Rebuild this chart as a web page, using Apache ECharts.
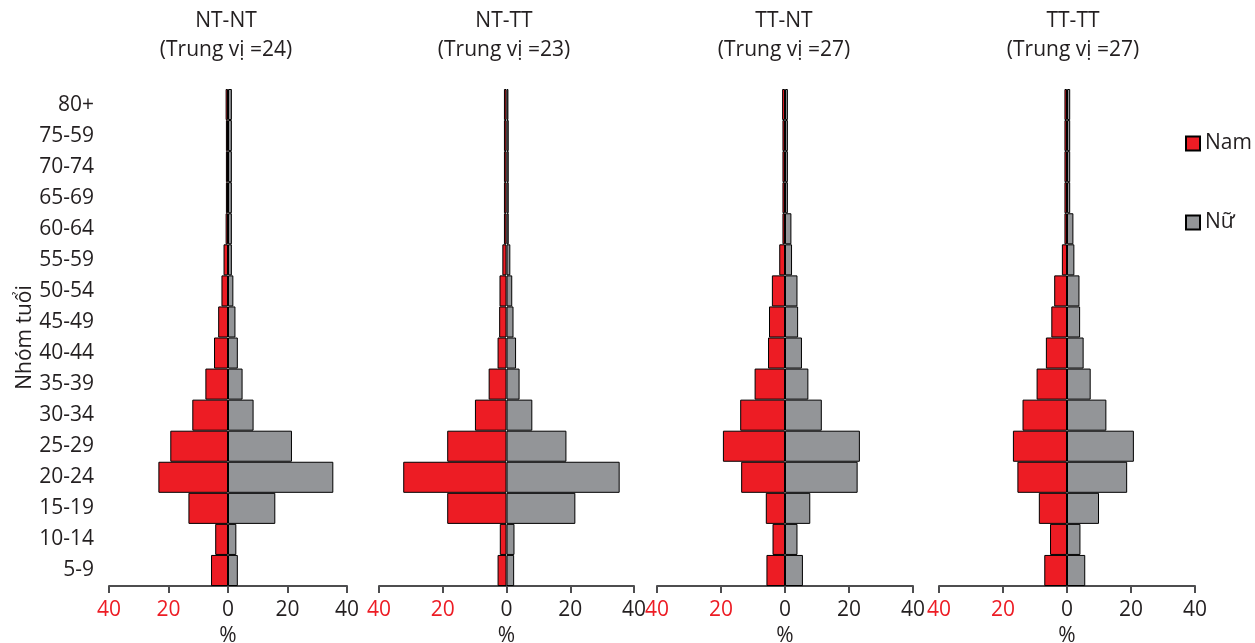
<!DOCTYPE html>
<html><head><meta charset="utf-8">
<script src="https://cdn.jsdelivr.net/npm/echarts@6/dist/echarts.min.js"></script>
<style>html,body{margin:0;padding:0;background:#fff}#c{width:1255px;height:643px}</style>
</head><body><div id="c"></div>
<script>
const ageGroups = ['5-9','10-14','15-19','20-24','25-29','30-34','35-39','40-44','45-49','50-54','55-59','60-64','65-69','70-74','75-59','80+'];
const panelTitles = ['NT-NT','NT-TT','TT-NT','TT-TT'];
const medians = [24, 23, 27, 27];
const maleNTNT   = [5.7,4.3,13.3,23.4,19.4,12.0,7.6,4.7,3.3,2.2,1.5,0.8,0.7,0.7,0.7,0.8];
const femaleNTNT = [3.3,2.8,15.9,35.4,21.5,8.6,4.9,3.3,2.5,1.8,1.3,1.3,1.3,1.3,1.3,1.3];
const maleNTTT   = [2.8,2.1,18.6,32.4,18.6,9.9,5.6,2.8,2.3,2.2,1.3,0.8,0.8,0.8,0.8,0.8];
const femaleNTTT = [2.4,2.5,21.6,35.5,18.8,8.1,4.1,3.0,2.2,1.8,1.2,0.7,0.7,0.7,0.7,0.6];
const maleTTNT   = [5.8,3.9,6.0,13.7,19.4,14.0,9.5,5.3,5.0,4.1,1.8,0.8,0.8,0.8,0.8,0.9];
const femaleTTNT = [5.6,3.9,7.9,22.7,23.4,11.5,7.3,5.3,4.1,3.9,2.2,2.0,0.9,0.9,0.9,0.9];
const maleTTTT   = [7.1,5.3,8.8,15.5,16.9,13.9,9.5,6.6,4.9,4.0,1.6,0.8,0.8,0.8,0.8,0.8];
const femaleTTTT = [5.7,4.2,10.0,18.8,20.9,12.3,7.4,5.2,4.1,3.9,2.3,2.0,1.0,1.0,1.0,1.0];

const males = [maleNTNT, maleNTTT, maleTTNT, maleTTTT];
const females = [femaleNTNT, femaleNTTT, femaleTTNT, femaleTTTT];

const FONT = 'Open Sans';
const RED = '#ED1C24', GRAY = '#939598', INK = '#231F20';
const grids = [
  {left:109, width:238, titleX:221},
  {left:379, width:255, titleX:499},
  {left:657, width:256, titleX:779},
  {left:939, width:256, titleX:1068}
];
const gridTop = 89, gridHeight = 497;

const option = {
  animation:false,
  textStyle:{fontFamily:FONT},
  title:[], grid:[], xAxis:[], yAxis:[], series:[],
  legend:{
    data:['Nam','Nữ'], orient:'vertical', left:1180, top:128,
    itemWidth:14, itemHeight:14, itemGap:58,
    textStyle:{fontFamily:FONT, fontSize:21, color:INK},
    icon:'rect'
  }
};

grids.forEach((g, i) => {
  option.grid.push({left:g.left, width:g.width, top:gridTop, height:gridHeight,
                    containLabel:false, outerBoundsMode:'none'});
  option.title.push({
    text: panelTitles[i] + '\n(Trung vị =' + medians[i] + ')',
    left: g.titleX, top: 2, textAlign:'center',
    textStyle:{fontFamily:FONT, fontSize:21, fontWeight:'normal', color:INK, lineHeight:29}
  });
  option.xAxis.push({
    type:'value', gridIndex:i, min:-40, max:40, interval:20,
    name:'%', nameLocation:'middle', nameGap:40,
    nameTextStyle:{fontFamily:FONT, fontSize:21, color:INK},
    axisLine:{show:true, lineStyle:{color:'#4D4D4F', width:2}},
    axisTick:{show:true, length:7, lineStyle:{color:'#4D4D4F', width:2}},
    splitLine:{show:false},
    axisLabel:{
      fontFamily:FONT, fontSize:21, margin:14,
      formatter: v => String(Math.abs(v)),
      color: v => (v < 0 ? RED : INK)
    }
  });
  option.yAxis.push({
    type:'category', gridIndex:i, data:ageGroups,
    axisLine:{show:false}, axisTick:{show:false}, splitLine:{show:false},
    axisLabel:{show:i===0, fontFamily:FONT, fontSize:21, color:INK, margin:15},
    name: i===0 ? 'Nhóm tuổi' : '', nameLocation:'middle', nameGap:73, nameRotate:90,
    nameTextStyle:{fontFamily:FONT, fontSize:21, color:INK}
  });
  option.series.push({
    name:'Nam', type:'bar', xAxisIndex:i, yAxisIndex:i,
    data: males[i].map(v => -v),
    barWidth:'100%', barGap:'-100%', barCategoryGap:'0%',
    itemStyle:{color:RED, borderColor:'#000', borderWidth:1}
  });
  option.series.push({
    name:'Nữ', type:'bar', xAxisIndex:i, yAxisIndex:i,
    data: females[i],
    barWidth:'100%', barGap:'-100%', barCategoryGap:'0%',
    itemStyle:{color:GRAY, borderColor:'#000', borderWidth:1}
  });
});

const chart = echarts.init(document.getElementById('c'), null, {renderer:'canvas'});
chart.setOption(option);
</script>
</body></html>
